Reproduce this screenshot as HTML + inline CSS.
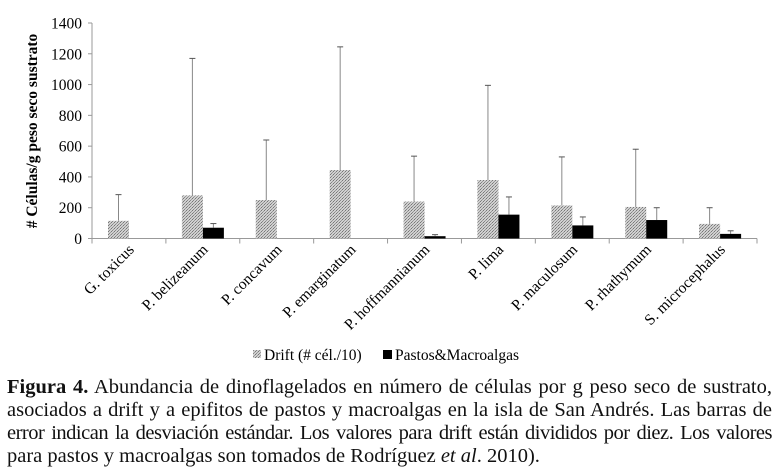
<!DOCTYPE html>
<html><head><meta charset="utf-8"><style>
html,body{margin:0;padding:0;background:#fff;width:779px;height:475px;overflow:hidden}
svg text{font-family:"Liberation Serif",serif}
.cap{position:absolute;left:7px;width:765px;font-family:"Liberation Serif",serif;font-size:20.5px;line-height:23px;color:#111}
.ln{display:block;text-align:justify;text-align-last:justify;white-space:nowrap;height:23px}
</style></head><body>
<svg id="chart" width="779" height="375" style="position:absolute;left:0;top:0">
<defs><pattern id="hatch" width="3" height="3" patternUnits="userSpaceOnUse"><rect width="3" height="3" fill="#d0d0d0"/><rect width="1" height="1" fill="#777"/><rect x="2" y="1" width="1" height="1" fill="#999"/><rect x="1" y="2" width="1" height="1" fill="#888"/></pattern></defs>
<g id="axes"></g><g id="bars"></g>
<text transform="translate(37,131) rotate(-90)" text-anchor="middle" font-size="15.5" font-weight="bold"># Células/g peso seco sustrato</text>
<g>
<rect x="253" y="350" width="8" height="8" fill="url(#hatch)"/>
<text x="264" y="360" font-size="15.5">Drift (# cél./10)</text>
<rect x="383" y="350" width="9" height="9" fill="#000"/>
<text x="395" y="360" font-size="15.5">Pastos&amp;Macroalgas</text>
</g>
</svg>
<div class="cap" style="top:376px">
<span class="ln"><b>Figura 4.</b> Abundancia de dinoflagelados en número de células por g peso seco de sustrato,</span>
<span class="ln">asociados a drift y a epifitos de pastos y macroalgas en la isla de San Andrés. Las barras de</span>
<span class="ln" style="letter-spacing:-0.5px;word-spacing:-2px">error indican la desviación estándar. Los valores para drift están divididos por diez. Los valores</span>
<span class="ln" style="text-align-last:left">para pastos y macroalgas son tomados de Rodríguez <i>et al</i>. 2010).</span>
</div>
<script>
const categories=["G. toxicus","P. belizeanum","P. concavum","P. emarginatum","P. hoffmannianum","P. lima","P. maculosum","P. rhathymum","S. microcephalus"];
const driftValues=[115,280,250,445,240,380,215,205,95];
const driftErrTop=[285,1170,640,1245,535,995,530,580,200];
const pastosValues=[0,70,0,0,15,155,85,120,30];
const pastosErrTop=[0,97,0,0,25,270,140,200,50];
const yTicks=[0,200,400,600,800,1000,1200,1400];
const NS="http://www.w3.org/2000/svg";
const x0=92,x1=757,yB=238.5,yT=23;
const cw=(x1-x0)/categories.length;
const y=v=>yB-(v/1400)*(yB-yT);
function mk(t,a,p){const e=document.createElementNS(NS,t);for(const k in a)e.setAttribute(k,a[k]);(p||document.getElementById('bars')).appendChild(e);return e;}
const ax=document.getElementById('axes');
let e=mk('line',{x1:x0,y1:yT,x2:x0,y2:yB,stroke:'#999'},ax);


e=mk('line',{x1:x0,y1:yB,x2:x1,y2:yB,stroke:'#999'},ax);


yTicks.forEach(t=>{
  mk('line',{x1:x0-4,y1:y(t),x2:x0,y2:y(t),stroke:'#999'},ax);
  const tx=mk('text',{x:x0-10,y:y(t)+5.5,'text-anchor':'end','font-size':'15.5'},ax);
  tx.textContent=t;
  
  
});
for(let i=0;i<=categories.length;i++)mk('line',{x1:x0+i*cw,y1:yB,x2:x0+i*cw,y2:yB+5,stroke:'#999'},ax);
categories.forEach((c,i)=>{
  const cx=x0+i*cw+cw/2;
  const lb=mk('text',{transform:`translate(${cx+6},${yB+12}) rotate(-45)`,'text-anchor':'end','font-size':'15.5'},ax);
  lb.textContent=c;
  
  
  const bw=21,xd=x0+i*cw+16,xp=xd+bw;
  if(driftErrTop[i]>driftValues[i]){
    mk('line',{x1:xd+bw/2,y1:y(driftErrTop[i]),x2:xd+bw/2,y2:y(driftValues[i]),stroke:'#888'});
    mk('line',{x1:xd+bw/2-3,y1:y(driftErrTop[i]),x2:xd+bw/2+3,y2:y(driftErrTop[i]),stroke:'#555'});
  }
  const b=mk('rect',{x:xd,y:y(driftValues[i]),width:bw,height:yB-y(driftValues[i]),fill:'url(#hatch)'});
  
  
  if(pastosValues[i]>0){
    mk('line',{x1:xp+bw/2,y1:y(pastosErrTop[i]),x2:xp+bw/2,y2:y(pastosValues[i]),stroke:'#888'});
    mk('line',{x1:xp+bw/2-3,y1:y(pastosErrTop[i]),x2:xp+bw/2+3,y2:y(pastosErrTop[i]),stroke:'#555'});
    const p=mk('rect',{x:xp,y:y(pastosValues[i]),width:bw,height:yB-y(pastosValues[i]),fill:'#000'});
    
    
  }
});
</script>
</body></html>
